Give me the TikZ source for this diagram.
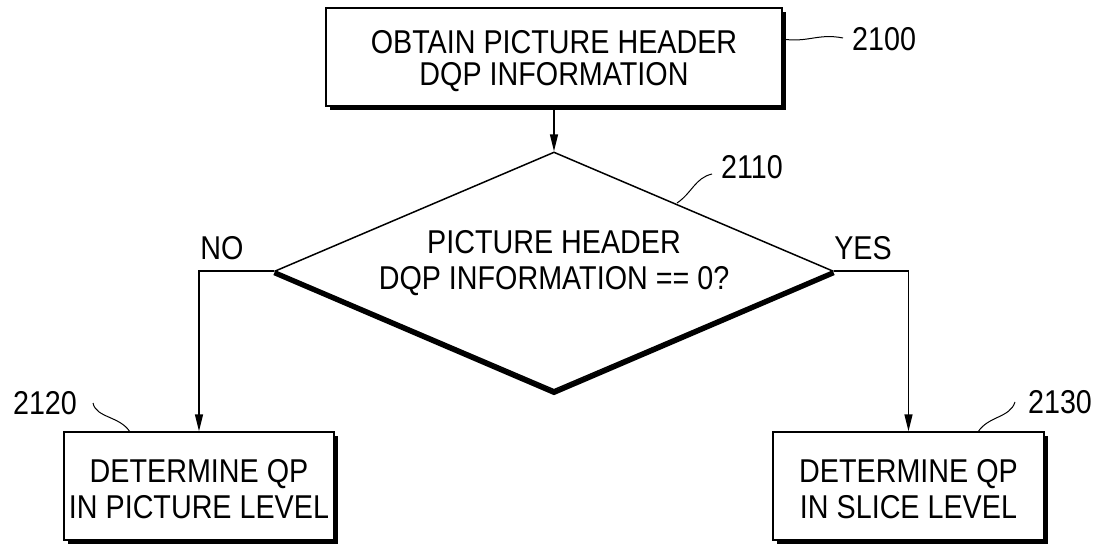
\documentclass[tikz,border=0pt]{standalone}
\usepackage{fontspec}
\setmainfont[FakeStretch=0.87]{Liberation Sans}
\usetikzlibrary{shapes.geometric,arrows.meta,shadows}
\begin{document}
\begin{tikzpicture}[x=1pt,y=-1pt,
  every node/.style={font=\fontsize{33}{36}\selectfont, align=center},
  procbox/.style={draw, line width=1.5pt, fill=white, rectangle, inner sep=0pt,
    drop shadow={shadow xshift=4pt, shadow yshift=-4pt, fill=black, opacity=1}},
  decision/.style={draw, line width=1.5pt, diamond, inner sep=0pt, minimum width=558pt, minimum height=238pt},
  flow/.style={line width=1.5pt, -{Triangle[length=17pt,width=8pt]}},
  leader/.style={line width=1pt},
  tag/.style={inner sep=0pt}
]
\useasboundingbox (0,0) rectangle (1109,551);
\node[procbox, minimum width=456pt, minimum height=98pt] (top) at (554,57) {};
\node[tag] (toptext) at (554,61) {OBTAIN PICTURE HEADER\\[-4pt]DQP INFORMATION};
\node[decision] (dia) at (554,271) {};
\draw[line width=4.5pt, line join=miter] ([yshift=-2pt]dia.west) -- ([yshift=-2pt]dia.south) -- ([yshift=-2pt]dia.east);
\node[tag] (dtext) at (554,263) {PICTURE HEADER\\DQP INFORMATION == 0?};
\node[procbox, minimum width=270pt, minimum height=108pt] (left) at (199,486) {};
\node[tag] (lefttext) at (199,489) {DETERMINE QP\\IN PICTURE LEVEL};
\node[procbox, minimum width=271pt, minimum height=108pt] (right) at (908.5,486) {};
\node[tag] (righttext) at (908.5,489) {DETERMINE QP\\IN SLICE LEVEL};

\draw[flow] (top.south) -- (dia.north);
\draw[flow] (dia.west) -| (left.north);
\draw[flow] (dia.east) -| (right.north);

\node[tag] (no) at (222,248) {NO};
\node[tag] (yes) at (863,248) {YES};

\node[tag, anchor=west] (l2100) at (852,39) {2100};
\node[tag] (l2110) at (752,167) {2110};
\node[tag] (l2120) at (45,403) {2120};
\node[tag] (l2130) at (1060,402) {2130};

\coordinate (a2100) at (782,39);
\coordinate (b2100) at (843,38);
\draw[leader] (a2100) .. controls (808,43) and (818,33) .. (b2100);
\coordinate (a2110) at (677,203);
\coordinate (b2110) at (712,174);
\draw[leader] (a2110) .. controls (692,193) and (695,178) .. (b2110);
\coordinate (a2120) at (130,432);
\coordinate (b2120) at (93,403);
\draw[leader] (a2120) .. controls (120,416) and (96,418) .. (b2120);
\coordinate (a2130) at (978,432);
\coordinate (b2130) at (1015,402);
\draw[leader] (a2130) .. controls (988,416) and (1010,418) .. (b2130);
\end{tikzpicture}
\end{document}
